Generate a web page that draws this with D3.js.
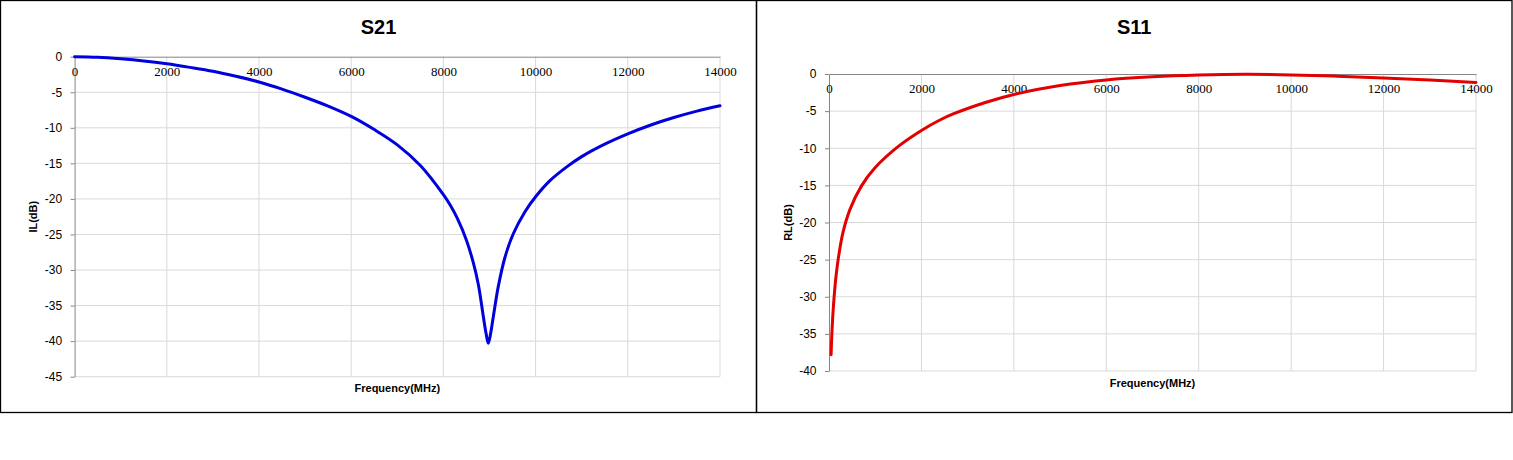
<!DOCTYPE html>
<html>
<head>
<meta charset="utf-8">
<title>S21 / S11</title>
<style>
body{margin:0;background:#fff;}
svg{display:block;}
.panel{fill:none;stroke:#000;stroke-width:1.3;}
.title{font-family:"Liberation Sans",Arial,sans-serif;font-size:20px;font-weight:bold;text-anchor:middle;}
.axisTitle{font-family:"Liberation Sans",Arial,sans-serif;font-size:11px;font-weight:bold;text-anchor:middle;}
.grid line{stroke:#d9d9d9;stroke-width:1;}
.yAxis text{font-family:"Liberation Sans",Arial,sans-serif;font-size:12px;fill:#000;}
.xAxis text{font-family:"Liberation Serif","Times New Roman",serif;font-size:13px;fill:#000;}
.yAxis path,.yAxis line,.xAxis path{stroke:#868686;}
.curve{fill:none;stroke-width:3;stroke-linejoin:round;stroke-linecap:round;}
</style>
<script src="https://d3js.org/d3.v7.min.js"></script>
</head>
<body>
<svg id="chart" width="1513" height="460"></svg>
<script>
// frequency ticks (MHz), shared by both charts
var freqTicks = [0,2000,4000,6000,8000,10000,12000,14000];

// S21 insertion loss
var s21Freq = [0,500,1000,1500,2000,2500,3000,3500,4000,4500,5000,5500,6000,6500,7000,7500,8000,8150,8300,8500,8650,8760,8865,8925,8974,9025,9082,9191,9336,9516,9770,10000,10300,10675,11000,11500,12000,12500,13000,13500,14000];
var s21Loss = [0,-0.08,-0.3,-0.6,-1.0,-1.5,-2.05,-2.75,-3.55,-4.55,-5.7,-6.95,-8.4,-10.25,-12.4,-15.3,-19.4,-20.9,-22.7,-25.8,-29.0,-32.1,-36.5,-38.9,-40.3,-38.9,-36.6,-32.3,-28.2,-24.9,-21.8,-19.7,-17.5,-15.5,-14.05,-12.3,-10.85,-9.6,-8.55,-7.65,-6.9];
var s21Ticks = [0,-5,-10,-15,-20,-25,-30,-35,-40,-45];

// S11 return loss
var s11Freq = [45,60,80,100,130,160,200,300,450,700,1000,1500,2000,2400,2700,3400,4000,5000,6000,7000,8000,9000,10000,11000,12000,13000,14000];
var s11Loss = [-37.8,-35.3,-32.8,-30.9,-28.6,-26.8,-24.9,-21.4,-18.3,-15.1,-12.6,-9.75,-7.6,-6.2,-5.35,-3.8,-2.75,-1.55,-0.8,-0.38,-0.15,-0.05,-0.12,-0.3,-0.53,-0.82,-1.15];
var s11Ticks = [0,-5,-10,-15,-20,-25,-30,-35,-40];

var svg = d3.select("#chart");

var charts = [
	{title:"S21", yLabel:"IL(dB)", freq:s21Freq, loss:s21Loss, yTicks:s21Ticks, color:"#0000dd",
	 panel:[0.5,756.5], left:74.6, right:720, top:56.7, bottom:376.7},
	{title:"S11", yLabel:"RL(dB)", freq:s11Freq, loss:s11Loss, yTicks:s11Ticks, color:"#e30000",
	 panel:[756.5,1512], left:829, right:1476, top:74, bottom:371}
];

charts.forEach(function(c){
	var g = svg.append("g");

	// 枠
	g.append("rect").attr("class","panel")
		.attr("x",c.panel[0]).attr("y",0.5)
		.attr("width",c.panel[1]-c.panel[0]).attr("height",412);

	var x = d3.scaleLinear().domain([0,14000]).range([c.left,c.right]);
	var y = d3.scaleLinear().domain([d3.min(c.yTicks),0]).range([c.bottom,c.top]);

	// grid lines
	var grid = g.append("g").attr("class","grid");
	grid.selectAll(".v").data(freqTicks.slice(1)).enter().append("line")
		.attr("x1",function(d){return x(d);}).attr("x2",function(d){return x(d);})
		.attr("y1",c.top).attr("y2",c.bottom);
	grid.selectAll(".h").data(c.yTicks.slice(1)).enter().append("line")
		.attr("x1",c.left).attr("x2",c.right)
		.attr("y1",function(d){return y(d);}).attr("y2",function(d){return y(d);});

	// y axis (plain hyphen minus, like the original)
	g.append("g").attr("class","yAxis")
		.attr("transform","translate("+c.left+",0)")
		.call(d3.axisLeft(y).tickValues(c.yTicks).tickFormat(function(d){return String(d);})
			.tickSize(4).tickSizeOuter(0).tickPadding(8.5));

	// x axis sits on the 0 dB line
	g.append("g").attr("class","xAxis")
		.attr("transform","translate(0,"+y(0)+")")
		.call(d3.axisBottom(x).tickValues(freqTicks).tickFormat(function(d){return String(d);})
			.tickSize(0).tickPadding(10));

	// curve
	var line = d3.line()
		.x(function(d,i){return x(c.freq[i]);})
		.y(function(d){return y(d);})
		.curve(d3.curveCatmullRom.alpha(0.5));
	g.append("path").attr("class","curve")
		.attr("stroke",c.color)
		.attr("d",line(c.loss));

	// titles
	var mid = (c.panel[0]+c.panel[1])/2;
	g.append("text").attr("class","title").attr("x",mid).attr("y",34).text(c.title);
	g.append("text").attr("class","axisTitle")
		.attr("x",(c.left+c.right)/2).attr("y",c.bottom+15.5)
		.text("Frequency(MHz)");
	g.append("text").attr("class","axisTitle")
		.attr("transform","translate("+(c.left-37.5)+","+((c.top+c.bottom)/2)+") rotate(-90)")
		.text(c.yLabel);
});
</script>
</body>
</html>
